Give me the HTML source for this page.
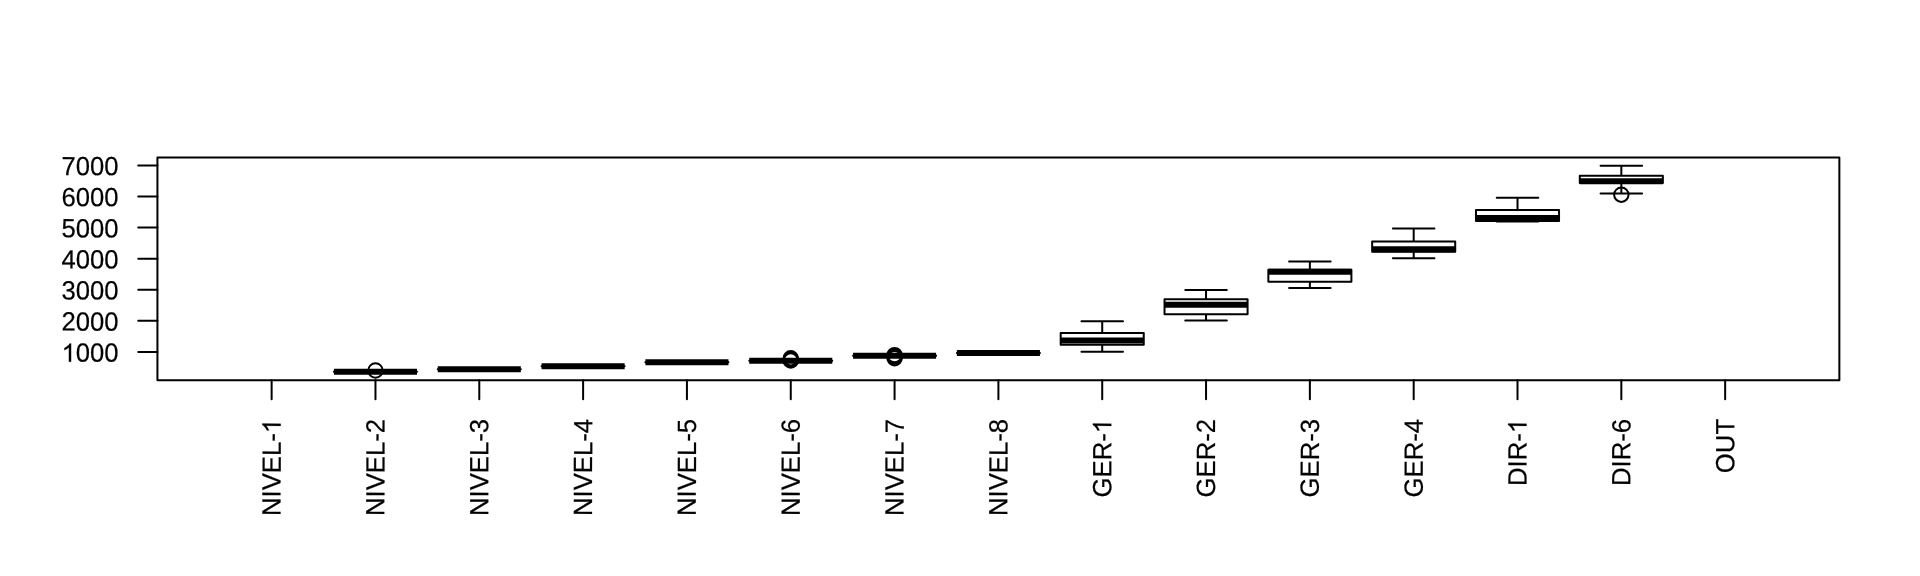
<!DOCTYPE html>
<html><head><meta charset="utf-8"><title>boxplot</title>
<style>
html,body{margin:0;padding:0;background:#fff;}
body{width:1920px;height:576px;overflow:hidden;}
svg{display:block;}
text{font-family:"Liberation Sans",sans-serif;font-size:25.6px;fill:#000;stroke:#000;stroke-width:0.2px;stroke-linejoin:round;text-rendering:geometricPrecision;}
.h{fill:none;stroke:none;}
.one{fill:#000;stroke:#000;stroke-width:16.0;stroke-linejoin:round;}
</style></head><body>
<svg width="1920" height="576" viewBox="0 0 1920 576">
<rect x="0" y="0" width="1920" height="576" fill="#fff"/>
<g fill="none" stroke="#000" stroke-width="2" stroke-linecap="round" stroke-linejoin="round">
<path d="M333.94 371.75H417.00"/>
<path d="M333.94 371.75H417.00" stroke-width="6" stroke-linecap="butt"/>
<circle cx="375.47" cy="370.50" r="7.20"/>
<path d="M437.76 369.25H520.82"/>
<path d="M437.76 369.25H520.82" stroke-width="6" stroke-linecap="butt"/>
<path d="M541.58 366.25H624.64"/>
<path d="M541.58 366.25H624.64" stroke-width="6" stroke-linecap="butt"/>
<path d="M645.40 362.25H728.46"/>
<path d="M645.40 362.25H728.46" stroke-width="6" stroke-linecap="butt"/>
<path d="M749.23 360.85H832.28"/>
<path d="M749.23 360.85H832.28" stroke-width="6" stroke-linecap="butt"/>
<circle cx="790.76" cy="358.20" r="7.20"/>
<circle cx="790.76" cy="359.40" r="7.20"/>
<circle cx="790.76" cy="360.55" r="7.20"/>
<path d="M853.05 355.75H936.11"/>
<path d="M853.05 355.75H936.11" stroke-width="6" stroke-linecap="butt"/>
<circle cx="894.58" cy="355.10" r="7.20"/>
<circle cx="894.58" cy="356.70" r="7.20"/>
<circle cx="894.58" cy="358.30" r="7.20"/>
<path d="M956.87 352.90H1039.93"/>
<path d="M956.87 352.90H1039.93" stroke-width="6" stroke-linecap="butt"/>
<path d="M1081.46 321.25H1122.99 M1102.22 321.25V333.00"/>
<path d="M1081.46 351.80H1122.99 M1102.22 351.80V344.70"/>
<rect x="1060.69" y="333.00" width="83.06" height="11.70" fill="#fff"/>
<path d="M1060.69 340.50H1143.75" stroke-width="6" stroke-linecap="butt"/>
<path d="M1185.28 290.00H1226.81 M1206.04 290.00V299.15"/>
<path d="M1185.28 320.40H1226.81 M1206.04 320.40V314.30"/>
<rect x="1164.52" y="299.15" width="83.06" height="15.15" fill="#fff"/>
<path d="M1164.52 304.75H1247.57" stroke-width="6" stroke-linecap="butt"/>
<path d="M1289.10 261.50H1330.63 M1309.87 261.50V269.80"/>
<path d="M1289.10 288.00H1330.63 M1309.87 288.00V281.80"/>
<rect x="1268.34" y="269.80" width="83.06" height="12.00" fill="#fff"/>
<path d="M1268.34 271.70H1351.40" stroke-width="6" stroke-linecap="butt"/>
<path d="M1392.92 228.50H1434.45 M1413.69 228.50V241.60"/>
<path d="M1392.92 258.30H1434.45 M1413.69 258.30V251.70"/>
<rect x="1372.16" y="241.60" width="83.06" height="10.10" fill="#fff"/>
<path d="M1372.16 249.30H1455.22" stroke-width="6" stroke-linecap="butt"/>
<path d="M1496.75 197.70H1538.28 M1517.51 197.70V209.95"/>
<path d="M1496.75 221.50H1538.28 M1517.51 221.50V221.00"/>
<rect x="1475.98" y="209.95" width="83.06" height="11.05" fill="#fff"/>
<path d="M1475.98 218.00H1559.04" stroke-width="6" stroke-linecap="butt"/>
<path d="M1600.57 165.70H1642.10 M1621.33 165.70V175.85"/>
<path d="M1600.57 193.40H1642.10 M1621.33 193.40V183.00"/>
<rect x="1579.80" y="175.85" width="83.06" height="7.15" fill="#fff"/>
<path d="M1579.80 181.20H1662.86" stroke-width="6" stroke-linecap="butt"/>
<circle cx="1621.33" cy="194.70" r="7.20"/>
<path d="M138.24 351.90H157.44"/>
<path d="M138.24 320.82H157.44"/>
<path d="M138.24 289.74H157.44"/>
<path d="M138.24 258.66H157.44"/>
<path d="M138.24 227.58H157.44"/>
<path d="M138.24 196.50H157.44"/>
<path d="M138.24 165.42H157.44"/>
<path d="M271.64 380.16V399.36"/>
<path d="M375.47 380.16V399.36"/>
<path d="M479.29 380.16V399.36"/>
<path d="M583.11 380.16V399.36"/>
<path d="M686.93 380.16V399.36"/>
<path d="M790.76 380.16V399.36"/>
<path d="M894.58 380.16V399.36"/>
<path d="M998.40 380.16V399.36"/>
<path d="M1102.22 380.16V399.36"/>
<path d="M1206.04 380.16V399.36"/>
<path d="M1309.87 380.16V399.36"/>
<path d="M1413.69 380.16V399.36"/>
<path d="M1517.51 380.16V399.36"/>
<path d="M1621.33 380.16V399.36"/>
<path d="M1725.16 380.16V399.36"/>
<rect x="157.44" y="157.44" width="1681.92" height="222.72"/>
</g>
<g opacity="0.999">
<text transform="translate(118.54 361.80) rotate(0.12) scale(1 1.030)" text-anchor="end"><tspan class="h">1</tspan>000</text>
<path d="M763 0H583V1147Q518 1085 412.5 1023T223 930V1104Q374 1175 487 1276T647 1472H763Z" class="one" transform="translate(61.59 361.80) scale(0.0125 -0.0125)"/>
<text transform="translate(118.54 330.72) rotate(0.12) scale(1 1.030)" text-anchor="end">2000</text>
<text transform="translate(118.54 299.64) rotate(0.12) scale(1 1.030)" text-anchor="end">3000</text>
<text transform="translate(118.54 268.56) rotate(0.12) scale(1 1.030)" text-anchor="end">4000</text>
<text transform="translate(118.54 237.48) rotate(0.12) scale(1 1.030)" text-anchor="end">5000</text>
<text transform="translate(118.54 206.40) rotate(0.12) scale(1 1.030)" text-anchor="end">6000</text>
<text transform="translate(118.54 175.32) rotate(0.12) scale(1 1.030)" text-anchor="end">7000</text>
<text style="font-size:25.7px" transform="translate(280.74 418.91) rotate(-89.88) scale(1 1.025)" text-anchor="end">NIVEL-<tspan class="h">1</tspan></text>
<path d="M763 0H583V1147Q518 1085 412.5 1023T223 930V1104Q374 1175 487 1276T647 1472H763Z" class="one" transform="translate(280.74 418.91) rotate(-89.88) translate(-14.293 0) scale(0.01255 -0.01255)"/>
<text style="font-size:25.7px" transform="translate(384.57 418.91) rotate(-89.88) scale(1 1.025)" text-anchor="end">NIVEL-2</text>
<text style="font-size:25.7px" transform="translate(488.39 418.91) rotate(-89.88) scale(1 1.025)" text-anchor="end">NIVEL-3</text>
<text style="font-size:25.7px" transform="translate(592.21 418.91) rotate(-89.88) scale(1 1.025)" text-anchor="end">NIVEL-4</text>
<text style="font-size:25.7px" transform="translate(696.03 418.91) rotate(-89.88) scale(1 1.025)" text-anchor="end">NIVEL-5</text>
<text style="font-size:25.7px" transform="translate(799.86 418.91) rotate(-89.88) scale(1 1.025)" text-anchor="end">NIVEL-6</text>
<text style="font-size:25.7px" transform="translate(903.68 418.91) rotate(-89.88) scale(1 1.025)" text-anchor="end">NIVEL-7</text>
<text style="font-size:25.7px" transform="translate(1007.50 418.91) rotate(-89.88) scale(1 1.025)" text-anchor="end">NIVEL-8</text>
<text style="font-size:25.7px" transform="translate(1111.32 418.91) rotate(-89.88) scale(1 1.025)" text-anchor="end">GER-<tspan class="h">1</tspan></text>
<path d="M763 0H583V1147Q518 1085 412.5 1023T223 930V1104Q374 1175 487 1276T647 1472H763Z" class="one" transform="translate(1111.32 418.91) rotate(-89.88) translate(-14.293 0) scale(0.01255 -0.01255)"/>
<text style="font-size:25.7px" transform="translate(1215.14 418.91) rotate(-89.88) scale(1 1.025)" text-anchor="end">GER-2</text>
<text style="font-size:25.7px" transform="translate(1318.97 418.91) rotate(-89.88) scale(1 1.025)" text-anchor="end">GER-3</text>
<text style="font-size:25.7px" transform="translate(1422.79 418.91) rotate(-89.88) scale(1 1.025)" text-anchor="end">GER-4</text>
<text style="font-size:25.7px" transform="translate(1526.61 418.91) rotate(-89.88) scale(1 1.025)" text-anchor="end">DIR-<tspan class="h">1</tspan></text>
<path d="M763 0H583V1147Q518 1085 412.5 1023T223 930V1104Q374 1175 487 1276T647 1472H763Z" class="one" transform="translate(1526.61 418.91) rotate(-89.88) translate(-14.293 0) scale(0.01255 -0.01255)"/>
<text style="font-size:25.7px" transform="translate(1630.43 418.91) rotate(-89.88) scale(1 1.025)" text-anchor="end">DIR-6</text>
<text style="font-size:25.7px" transform="translate(1734.26 418.91) rotate(-89.88) scale(1 1.025)" text-anchor="end">OUT</text>
</g>
</svg>
</body></html>
